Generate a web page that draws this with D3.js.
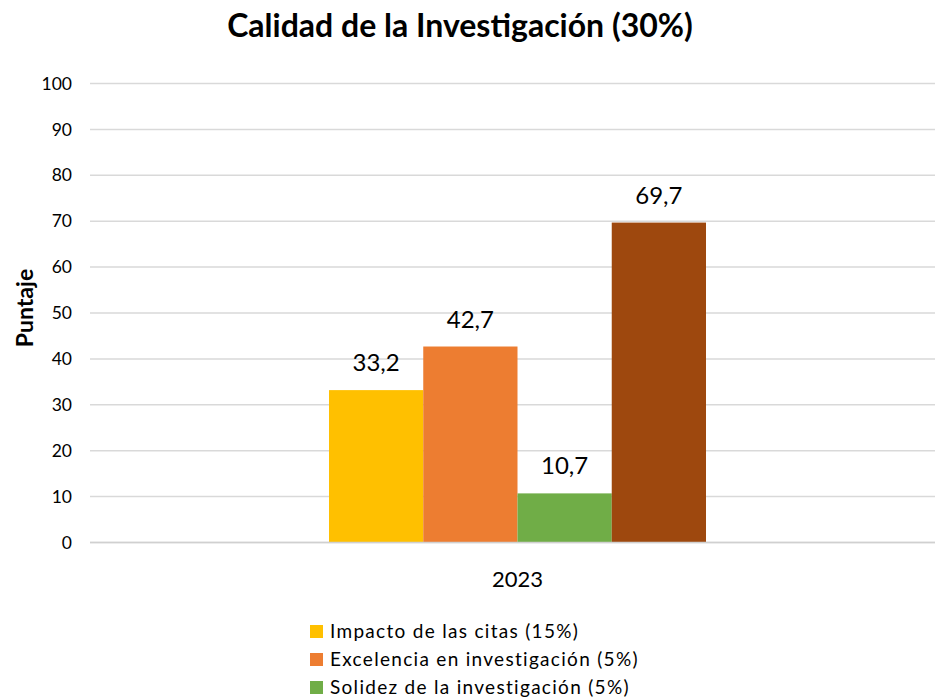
<!DOCTYPE html>
<html>
<head>
<meta charset="utf-8">
<script src="https://cdn.jsdelivr.net/npm/d3@7.9.0/dist/d3.min.js"></script>
<style>
  html, body { margin: 0; padding: 0; background: #fff; overflow: hidden; }
  svg { display: block; font-family: Lato, "Open Sans", sans-serif; }
</style>
</head>
<body>
<svg id="chart" width="935" height="698"></svg>
<script>
const categories = ["2023"];
const seriesNames = [
  "Impacto de las citas (15%)",
  "Excelencia en investigación (5%)",
  "Solidez de la investigación (5%)",
  "Influencia en la investigación (5%)"
];
const seriesValues = [33.2, 42.7, 10.7, 69.7];
const seriesColors = ["#FFC000", "#ED7D31", "#70AD47", "#9E480E"];
const yTicks = [0, 10, 20, 30, 40, 50, 60, 70, 80, 90, 100];

const svg = d3.select("#chart");
const plot = { left: 90, right: 945, top: 83.5, bottom: 542.5 };

const x = d3.scaleBand().domain(categories).range([plot.left, plot.right]).paddingInner(0).paddingOuter(0.634);
const xSeries = d3.scaleBand().domain(d3.range(seriesNames.length)).range([0, x.bandwidth()]);
const y = d3.scaleLinear().domain([0, 100]).range([plot.bottom, plot.top]);

const fmt = (v) => d3.format(".1f")(v).replace(".", ",");

// gridlines
svg.append("g")
  .selectAll("line")
  .data(yTicks)
  .join("line")
  .attr("x1", plot.left)
  .attr("x2", plot.right)
  .attr("y1", (d) => y(d))
  .attr("y2", (d) => y(d))
  .attr("stroke", "#D9D9D9")
  .attr("stroke-width", 1.5);

// y axis labels
const yAxis = svg.append("g")
  .attr("transform", `translate(${plot.left - 18},0)`)
  .call(d3.axisLeft(y).tickValues(yTicks).tickSize(0).tickPadding(0));
yAxis.select(".domain").remove();
yAxis.selectAll("text")
  .attr("font-size", 17.5)
  .attr("font-family", "Lato, sans-serif")
  .attr("fill", "#000");

// bars
const group = svg.append("g")
  .selectAll("g")
  .data(categories)
  .join("g")
  .attr("transform", (d) => `translate(${x(d)},0)`);

group.selectAll("rect")
  .data(seriesValues.map((v, i) => ({ v, i })))
  .join("rect")
  .attr("x", (d) => xSeries(d.i))
  .attr("width", xSeries.bandwidth())
  .attr("y", (d) => y(d.v))
  .attr("height", (d) => y(0) - y(d.v))
  .attr("fill", (d) => seriesColors[d.i]);

group.selectAll("text.val")
  .data(seriesValues.map((v, i) => ({ v, i })))
  .join("text")
  .attr("class", "val")
  .attr("x", (d) => xSeries(d.i) + xSeries.bandwidth() / 2)
  .attr("y", (d) => y(d.v) - 19)
  .attr("text-anchor", "middle")
  .attr("font-size", 24)
  .attr("fill", "#000")
  .text((d) => fmt(d.v));

// baseline
svg.append("line")
  .attr("x1", plot.left).attr("x2", plot.right)
  .attr("y1", y(0)).attr("y2", y(0))
  .attr("stroke", "#D0D0D0").attr("stroke-width", 1.5);

// x axis label
svg.append("g")
  .selectAll("text")
  .data(categories)
  .join("text")
  .attr("x", (d) => x(d) + x.bandwidth() / 2)
  .attr("y", 587)
  .attr("text-anchor", "middle")
  .attr("font-size", 22)
  .text((d) => d);

// title
svg.append("text")
  .attr("x", 460)
  .attr("y", 37)
  .attr("text-anchor", "middle")
  .attr("font-size", 32)
  .attr("font-weight", "bold")
  .text("Calidad de la Investigación (30%)");

// y axis title
svg.append("text")
  .attr("transform", "translate(33,308) rotate(-90)")
  .attr("text-anchor", "middle")
  .attr("font-size", 23)
  .attr("font-weight", "bold")
  .text("Puntaje");

// legend
const legend = svg.append("g").attr("transform", "translate(310,632)");
const item = legend.selectAll("g")
  .data(seriesNames)
  .join("g")
  .attr("transform", (d, i) => `translate(0,${i * 28})`);
item.append("rect")
  .attr("x", 0).attr("y", -7)
  .attr("width", 13).attr("height", 13)
  .attr("fill", (d, i) => seriesColors[i]);
item.append("text")
  .attr("x", 20).attr("y", 6)
  .attr("font-size", 19)
  .attr("letter-spacing", 1.3)
  .text((d) => d);
</script>
</body>
</html>
